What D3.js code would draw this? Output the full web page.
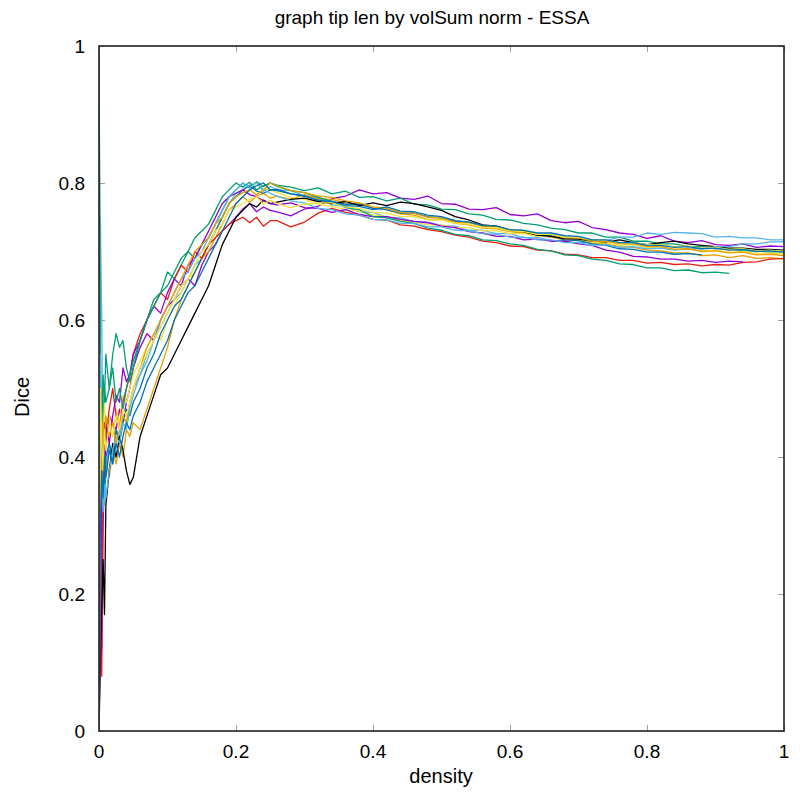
<!DOCTYPE html>
<html>
<head>
<meta charset="utf-8">
<script src="https://cdn.jsdelivr.net/npm/d3@7"></script>
<style>
  body { margin: 0; background: #fff; }
  text { font-family: "Liberation Sans", Arial, sans-serif; fill: #000; }
</style>
</head>
<body>
<svg id="chart" width="800" height="798"></svg>
<script>
// density samples shared by every run
var density = [0, 0.002, 0.004, 0.006, 0.008, 0.01, 0.015, 0.02, 0.025, 0.03, 0.035, 0.04, 0.045, 0.05,
    0.06, 0.07, 0.08, 0.09, 0.1, 0.11, 0.12, 0.13, 0.14, 0.15, 0.16, 0.17, 0.18, 0.19, 0.2, 0.21, 0.22, 0.23, 0.24, 0.25,
    0.26, 0.28, 0.3, 0.32, 0.34, 0.36, 0.38, 0.4, 0.42, 0.44, 0.46, 0.48, 0.5, 0.52, 0.54, 0.56, 0.58, 0.6, 0.62, 0.64,
    0.66, 0.68, 0.7, 0.72, 0.74, 0.76, 0.78, 0.8, 0.82, 0.84, 0.86, 0.88, 0.9, 0.92, 0.94, 0.96, 0.98, 1.0];

var purpleA = [0, 0.38, 0.12, 0.30, 0.38, 0.42, 0.46, 0.45, 0.44, 0.47, 0.45, 0.48, 0.50, 0.53, 0.56, 0.58, 0.57, 0.60, 0.62, 0.63, 0.65, 0.66, 0.65, 0.68, 0.70, 0.71, 0.73, 0.74, 0.75, 0.762, 0.77, 0.758, 0.765, 0.76,
    0.758, 0.752, 0.762, 0.766, 0.777, 0.781, 0.79, 0.784, 0.786, 0.778, 0.776, 0.781, 0.770, 0.769, 0.762, 0.761, 0.764, 0.754, 0.752, 0.755,
    0.745, 0.742, 0.744, 0.735, 0.732, 0.727, 0.725, 0.719, 0.723, 0.715, 0.713, 0.716, 0.710, 0.709, 0.711, 0.706, 0.708, 0.707];
var greenA = [1.0, 0.55, 0.40, 0.46, 0.50, 0.48, 0.50, 0.55, 0.58, 0.56, 0.57, 0.53, 0.51, 0.53, 0.57, 0.60, 0.63, 0.64, 0.67, 0.66, 0.68, 0.70, 0.69, 0.71, 0.72, 0.74, 0.76, 0.78, 0.79, 0.80, 0.793, 0.802, 0.795, 0.80,
    0.797, 0.794, 0.789, 0.793, 0.784, 0.788, 0.779, 0.780, 0.774, 0.778, 0.769, 0.768, 0.762, 0.761, 0.755, 0.753, 0.747, 0.746, 0.741, 0.739,
    0.734, 0.732, 0.727, 0.727, 0.721, 0.721, 0.715, 0.715, 0.711, 0.711, 0.707, 0.707, 0.704, 0.704, 0.701, 0.701, 0.699, 0.700];
var lblueA = [0, 0.75, 0.60, 0.35, 0.33, 0.38, 0.42, 0.40, 0.44, 0.43, 0.46, 0.45, 0.48, 0.50, 0.52, 0.55, 0.57, 0.59, 0.61, 0.63, 0.64, 0.66, 0.68, 0.69, 0.71, 0.73, 0.75, 0.77, 0.785, 0.79, 0.797, 0.80, 0.788, 0.795,
    0.790, 0.789, 0.781, 0.779, 0.768, 0.766, 0.758, 0.757, 0.750, 0.749, 0.744, 0.743, 0.738, 0.737, 0.731, 0.731, 0.726, 0.726, 0.720, 0.721,
    0.716, 0.716, 0.712, 0.716, 0.716, 0.721, 0.721, 0.727, 0.725, 0.728, 0.727, 0.726, 0.721, 0.722, 0.720, 0.720, 0.717, 0.717];
var orangeA = [0, 0.45, 0.50, 0.42, 0.38, 0.40, 0.37, 0.41, 0.39, 0.42, 0.40, 0.44, 0.43, 0.45, 0.44, 0.47, 0.50, 0.53, 0.56, 0.60, 0.63, 0.65, 0.67, 0.69, 0.70, 0.72, 0.74, 0.76, 0.77, 0.78, 0.772, 0.781, 0.785, 0.778,
    0.781, 0.776, 0.783, 0.777, 0.776, 0.771, 0.769, 0.764, 0.761, 0.755, 0.753, 0.747, 0.747, 0.741, 0.739, 0.734, 0.733, 0.729, 0.727, 0.723,
    0.721, 0.717, 0.717, 0.712, 0.711, 0.707, 0.706, 0.702, 0.701, 0.698, 0.698, 0.694, 0.695, 0.691, 0.694, 0.690, 0.691, 0.689];
var yellowA = [1.0, 0.30, 0.45, 0.40, 0.48, 0.44, 0.46, 0.43, 0.47, 0.45, 0.49, 0.48, 0.50, 0.52, 0.54, 0.56, 0.58, 0.57, 0.60, 0.62, 0.64, 0.66, 0.67, 0.69, 0.71, 0.73, 0.75, 0.77, 0.78, 0.786, 0.79, 0.80, 0.793, 0.79,
    0.786, 0.779, 0.776, 0.769, 0.766, 0.761, 0.759, 0.753, 0.751, 0.745, 0.743, 0.739, 0.739, 0.735, 0.735, 0.730, 0.730, 0.726, 0.726, 0.722,
    0.722, 0.718, 0.717, 0.713, 0.713, 0.709, 0.710, 0.706, 0.707, 0.703, 0.704, 0.701, 0.702, 0.699, 0.700, 0.697, 0.698, 0.696];
var blueA = [0, 0.20, 0.32, 0.38, 0.35, 0.40, 0.42, 0.39, 0.44, 0.42, 0.45, 0.47, 0.46, 0.48, 0.50, 0.53, 0.55, 0.58, 0.60, 0.62, 0.63, 0.65, 0.67, 0.69, 0.71, 0.73, 0.75, 0.77, 0.78, 0.79, 0.796, 0.788, 0.785, 0.79,
    0.789, 0.784, 0.781, 0.775, 0.773, 0.769, 0.769, 0.763, 0.761, 0.756, 0.756, 0.751, 0.749, 0.744, 0.743, 0.737, 0.736, 0.731, 0.729, 0.724,
    0.723, 0.717, 0.716, 0.711, 0.709, 0.704, 0.703, 0.699, 0.699, 0.696, 0.697, 0.695];
var red = [0, 0.35, 0.08, 0.40, 0.45, 0.43, 0.47, 0.50, 0.46, 0.44, 0.48, 0.50, 0.52, 0.55, 0.58, 0.60, 0.62, 0.64, 0.63, 0.66, 0.68, 0.67, 0.70, 0.69, 0.71, 0.72, 0.73, 0.74, 0.745, 0.75, 0.742, 0.75, 0.737, 0.745,
    0.745, 0.736, 0.743, 0.756, 0.763, 0.757, 0.753, 0.747, 0.746, 0.739, 0.737, 0.732, 0.729, 0.724, 0.721, 0.715, 0.713, 0.708, 0.707, 0.702,
    0.701, 0.696, 0.695, 0.691, 0.691, 0.687, 0.687, 0.683, 0.684, 0.681, 0.682, 0.679, 0.681, 0.680, 0.684, 0.685, 0.689, 0.690];
var black = [0, 0.10, 0.18, 0.25, 0.17, 0.33, 0.38, 0.42, 0.40, 0.43, 0.41, 0.38, 0.36, 0.37, 0.43, 0.46, 0.49, 0.52, 0.53, 0.55, 0.57, 0.59, 0.61, 0.63, 0.65, 0.68, 0.71, 0.73, 0.75, 0.76, 0.77, 0.765, 0.775, 0.77,
    0.772, 0.776, 0.778, 0.773, 0.770, 0.773, 0.767, 0.771, 0.767, 0.772, 0.770, 0.765, 0.760, 0.751, 0.746, 0.739, 0.737, 0.731, 0.729, 0.724,
    0.722, 0.719, 0.718, 0.715, 0.714, 0.717, 0.713, 0.710, 0.713, 0.715, 0.711, 0.709, 0.707, 0.705, 0.705, 0.703, 0.703, 0.702];
var purpleB = [0, 0.15, 0.40, 0.44, 0.40, 0.45, 0.42, 0.46, 0.49, 0.48, 0.53, 0.51, 0.52, 0.55, 0.57, 0.60, 0.62, 0.61, 0.64, 0.66, 0.65, 0.68, 0.69, 0.71, 0.73, 0.75, 0.77, 0.78, 0.785, 0.79, 0.783, 0.78, 0.774, 0.77,
    0.768, 0.771, 0.764, 0.763, 0.757, 0.761, 0.754, 0.751, 0.751, 0.747, 0.744, 0.742, 0.737, 0.735, 0.729, 0.727, 0.722, 0.722, 0.717, 0.718,
    0.715, 0.715, 0.711, 0.709, 0.702, 0.699, 0.693, 0.692, 0.689, 0.689, 0.686, 0.687, 0.684, 0.686, 0.685];
var greenB = [1.0, 0.50, 0.45, 0.52, 0.48, 0.55, 0.50, 0.53, 0.48, 0.50, 0.47, 0.50, 0.52, 0.54, 0.57, 0.60, 0.62, 0.64, 0.65, 0.67, 0.69, 0.70, 0.72, 0.73, 0.74, 0.76, 0.78, 0.79, 0.80, 0.794, 0.801, 0.79, 0.796, 0.80,
    0.795, 0.789, 0.786, 0.779, 0.773, 0.764, 0.761, 0.751, 0.749, 0.744, 0.741, 0.734, 0.731, 0.725, 0.723, 0.717, 0.716, 0.711, 0.709, 0.703,
    0.701, 0.695, 0.694, 0.689, 0.687, 0.682, 0.681, 0.676, 0.676, 0.672, 0.673, 0.669, 0.670, 0.668];
var lblueB = [0, 0.55, 0.40, 0.32, 0.36, 0.34, 0.38, 0.41, 0.43, 0.42, 0.45, 0.44, 0.47, 0.49, 0.52, 0.54, 0.57, 0.60, 0.62, 0.64, 0.66, 0.67, 0.69, 0.70, 0.72, 0.74, 0.76, 0.78, 0.79, 0.80, 0.793, 0.801, 0.79, 0.785,
    0.781, 0.774, 0.771, 0.763, 0.761, 0.755, 0.753, 0.747, 0.746, 0.741, 0.741, 0.736, 0.736, 0.731, 0.730, 0.726, 0.725, 0.721, 0.721, 0.717,
    0.717, 0.713, 0.713, 0.709, 0.710, 0.706, 0.707, 0.704, 0.705, 0.702, 0.704, 0.704, 0.707, 0.707, 0.711, 0.711, 0.714, 0.714];
var orangeB = [0, 0.40, 0.35, 0.45, 0.42, 0.46, 0.43, 0.45, 0.42, 0.44, 0.46, 0.45, 0.48, 0.50, 0.53, 0.56, 0.58, 0.60, 0.62, 0.64, 0.66, 0.68, 0.70, 0.71, 0.72, 0.74, 0.75, 0.77, 0.78, 0.786, 0.79, 0.783, 0.79, 0.80,
    0.796, 0.789, 0.786, 0.781, 0.779, 0.774, 0.771, 0.765, 0.763, 0.757, 0.756, 0.750, 0.749, 0.743, 0.742, 0.737, 0.736, 0.731, 0.730, 0.725,
    0.725, 0.720, 0.720, 0.715, 0.715, 0.711, 0.711, 0.707, 0.707, 0.703, 0.704, 0.700, 0.701, 0.698, 0.699, 0.695, 0.696, 0.694];
var yellowB = [0, 0.50, 0.42, 0.38, 0.44, 0.41, 0.45, 0.43, 0.46, 0.44, 0.47, 0.46, 0.48, 0.50, 0.53, 0.55, 0.57, 0.59, 0.61, 0.63, 0.65, 0.66, 0.68, 0.70, 0.71, 0.73, 0.74, 0.76, 0.765, 0.77, 0.776, 0.78, 0.769, 0.775,
    0.770, 0.764, 0.769, 0.771, 0.771, 0.765, 0.763, 0.757, 0.756, 0.751, 0.751, 0.746, 0.746, 0.741, 0.740, 0.735, 0.735, 0.730, 0.729, 0.725,
    0.725, 0.721, 0.721, 0.717, 0.717, 0.713, 0.713, 0.710, 0.710, 0.707, 0.708, 0.705, 0.706, 0.703, 0.704, 0.701, 0.702, 0.700];
var blueB = [0, 0.30, 0.38, 0.34, 0.40, 0.37, 0.41, 0.39, 0.42, 0.40, 0.43, 0.45, 0.44, 0.46, 0.48, 0.51, 0.53, 0.55, 0.57, 0.60, 0.62, 0.64, 0.65, 0.67, 0.69, 0.71, 0.73, 0.75, 0.77, 0.78, 0.79, 0.796, 0.80, 0.79,
    0.791, 0.784, 0.781, 0.775, 0.773, 0.767, 0.766, 0.761, 0.765, 0.759, 0.758, 0.753, 0.751, 0.745, 0.743, 0.738, 0.737, 0.732, 0.731, 0.727,
    0.727, 0.723, 0.722, 0.717, 0.717, 0.713, 0.713, 0.709, 0.709, 0.706, 0.707, 0.704, 0.705, 0.702, 0.703, 0.700, 0.701, 0.699];

var runs = [purpleA, greenA, lblueA, orangeA, yellowA, blueA, red, black,
    purpleB, greenB, lblueB, orangeB, yellowB, blueB];
// gnuplot default line colours, cycled
var colors = ['#9400d3', '#009e73', '#56b4e9', '#e69f00', '#f0e442', '#0072b2', '#e51e10', '#000000'];
var xTicks = [0, 0.2, 0.4, 0.6, 0.8, 1];
var yTicks = [0, 0.2, 0.4, 0.6, 0.8, 1];

var plotL = 99, plotR = 784, plotT = 46, plotB = 731;
var svg = d3.select('#chart');

var x = d3.scaleLinear().domain([0, 1]).range([plotL, plotR]);
var y = d3.scaleLinear().domain([0, 1]).range([plotB, plotT]);

svg.append('defs').append('clipPath').attr('id', 'plotclip')
    .append('rect')
    .attr('x', plotL).attr('y', plotT)
    .attr('width', plotR - plotL).attr('height', plotB - plotT);

// inward ticks on all four sides
var tickGrey = '#a0a0a0';
svg.append('g').attr('transform', 'translate(0,' + plotB + ')')
    .call(d3.axisTop(x).tickValues(xTicks).tickSize(6).tickFormat(''))
    .call(g => g.select('.domain').remove())
    .call(g => g.selectAll('line').attr('stroke', tickGrey));
svg.append('g').attr('transform', 'translate(0,' + plotT + ')')
    .call(d3.axisBottom(x).tickValues(xTicks).tickSize(6).tickFormat(''))
    .call(g => g.select('.domain').remove())
    .call(g => g.selectAll('line').attr('stroke', tickGrey));
svg.append('g').attr('transform', 'translate(' + plotL + ',0)')
    .call(d3.axisRight(y).tickValues(yTicks).tickSize(6).tickFormat(''))
    .call(g => g.select('.domain').remove())
    .call(g => g.selectAll('line').attr('stroke', tickGrey));
svg.append('g').attr('transform', 'translate(' + plotR + ',0)')
    .call(d3.axisLeft(y).tickValues(yTicks).tickSize(6).tickFormat(''))
    .call(g => g.select('.domain').remove())
    .call(g => g.selectAll('line').attr('stroke', tickGrey));

// tick labels
svg.append('g').selectAll('text').data(xTicks).join('text')
    .attr('x', d => x(d)).attr('y', plotB + 27)
    .attr('text-anchor', 'middle')
    .style('font-size', '19px')
    .text(d => d3.format('~g')(d));
svg.append('g').selectAll('text').data(yTicks).join('text')
    .attr('x', plotL - 14).attr('y', d => y(d) + 7)
    .attr('text-anchor', 'end')
    .style('font-size', '19px')
    .text(d => d3.format('~g')(d));

var line = d3.line()
    .x((d, i) => x(density[i]))
    .y(d => y(d));

svg.append('g').attr('clip-path', 'url(#plotclip)')
    .selectAll('path').data(runs).join('path')
    .attr('fill', 'none')
    .attr('stroke', (d, i) => colors[i % colors.length])
    .attr('stroke-width', 1.3)
    .attr('stroke-linejoin', 'round')
    .attr('d', line);

// border
svg.append('rect')
    .attr('x', plotL).attr('y', plotT)
    .attr('width', plotR - plotL).attr('height', plotB - plotT)
    .attr('fill', 'none')
    .attr('stroke', '#222')
    .attr('stroke-width', 1.6);

svg.append('text')
    .attr('x', 432).attr('y', 24)
    .attr('text-anchor', 'middle')
    .style('font-size', '19px')
    .text('graph tip len by volSum norm - ESSA');
svg.append('text')
    .attr('x', 441).attr('y', 783)
    .attr('text-anchor', 'middle')
    .style('font-size', '20px')
    .text('density');
svg.append('text')
    .attr('transform', 'translate(29,' + 397 + ') rotate(-90)')
    .attr('text-anchor', 'middle')
    .style('font-size', '20px')
    .text('Dice');
</script>
</body>
</html>
